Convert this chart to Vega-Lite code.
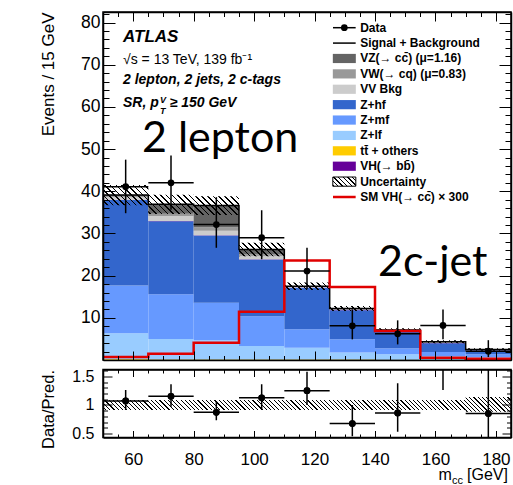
{
"$schema": "https://vega.github.io/schema/vega-lite/v6.json",
"padding": {"left": 38, "top": 10, "right": 3, "bottom": 2},
"spacing": 2.5,
"config": {"font": "Liberation Sans", "view": {"stroke": "black", "strokeWidth": 1.5}, "axis": {"grid": false, "labelColor": "black", "titleColor": "black", "tickColor": "black", "domainColor": "black", "titleFontWeight": "normal", "labelFont": "Liberation Sans", "titleFont": "Liberation Sans", "labelFlush": false, "labelBound": false}},
"datasets": {
"bins": [
{"lo":50,"hi":65,"c":57.5,"edges":[50,65],"tot":39.1,"uhi":41.5,"ulo":36.7,"sig":0.7,"data":41.1,"dlo":34.8,"dhi":47.5,"r":1.07,"rlo":0.91,"rhi":1.26,"rbhi":1.085,"rblo":0.91},
{"lo":65,"hi":80,"c":72.5,"edges":[65,80],"tot":36.9,"uhi":39.2,"ulo":34.6,"sig":1.5,"data":42.0,"dlo":35.6,"dhi":48.5,"r":1.15,"rlo":0.97,"rhi":1.36,"rbhi":1.085,"rblo":0.91},
{"lo":80,"hi":95,"c":87.5,"edges":[80,95],"tot":36.6,"uhi":38.8,"ulo":34.4,"sig":4.1,"data":32.1,"dlo":26.6,"dhi":38.6,"r":0.87,"rlo":0.73,"rhi":1.07,"rbhi":1.085,"rblo":0.91},
{"lo":95,"hi":110,"c":102.5,"edges":[95,110],"tot":26.2,"uhi":27.8,"ulo":24.6,"sig":11.45,"data":29.0,"dlo":23.9,"dhi":35.5,"r":1.125,"rlo":0.92,"rhi":1.36,"rbhi":1.085,"rblo":0.91},
{"lo":110,"hi":125,"c":117.5,"edges":[110,125],"tot":17.5,"uhi":18.4,"ulo":16.6,"sig":23.6,"data":21.1,"dlo":16.8,"dhi":26.6,"r":1.25,"rlo":1.0,"rhi":1.58,"rbhi":1.085,"rblo":0.91},
{"lo":125,"hi":140,"c":132.5,"edges":[125,140],"tot":12.2,"uhi":12.8,"ulo":11.6,"sig":17.3,"data":8.1,"dlo":4.9,"dhi":12.0,"r":0.675,"rlo":0.45,"rhi":1.0,"rbhi":1.085,"rblo":0.91},
{"lo":140,"hi":155,"c":147.5,"edges":[140,155],"tot":7.1,"uhi":7.55,"ulo":6.65,"sig":6.9,"data":6.2,"dlo":3.7,"dhi":9.4,"r":0.86,"rlo":0.53,"rhi":1.38,"rbhi":1.085,"rblo":0.91},
{"lo":155,"hi":170,"c":162.5,"edges":[155,170],"tot":4.35,"uhi":4.7,"ulo":4.0,"sig":0.55,"data":8.2,"dlo":4.9,"dhi":12.0,"r":1.9,"rlo":1.26,"rhi":2.8,"rbhi":1.085,"rblo":0.91},
{"lo":170,"hi":185,"c":177.5,"edges":[170,185],"tot":2.5,"uhi":2.8,"ulo":2.2,"sig":0.3,"data":2.1,"dlo":0.7,"dhi":4.7,"r":0.85,"rlo":0.2,"rhi":2.6,"rbhi":1.14,"rblo":0.88}
],
"stack": [
{"lo":50,"hi":65,"comp":"tt","k":0,"v":0.15},{"lo":50,"hi":65,"comp":"Zlf","k":1,"v":6.2},{"lo":50,"hi":65,"comp":"Zmf","k":2,"v":11.3},{"lo":50,"hi":65,"comp":"Zhf","k":3,"v":20.3},{"lo":50,"hi":65,"comp":"VHbb","k":4,"v":0.05},{"lo":50,"hi":65,"comp":"VV","k":5,"v":0.6},{"lo":50,"hi":65,"comp":"VW","k":6,"v":0.3},{"lo":50,"hi":65,"comp":"VZ","k":7,"v":0.2},
{"lo":65,"hi":80,"comp":"tt","k":0,"v":0.1},{"lo":65,"hi":80,"comp":"Zlf","k":1,"v":4.9},{"lo":65,"hi":80,"comp":"Zmf","k":2,"v":10.6},{"lo":65,"hi":80,"comp":"Zhf","k":3,"v":17.3},{"lo":65,"hi":80,"comp":"VHbb","k":4,"v":0.05},{"lo":65,"hi":80,"comp":"VV","k":5,"v":1.2},{"lo":65,"hi":80,"comp":"VW","k":6,"v":0.5},{"lo":65,"hi":80,"comp":"VZ","k":7,"v":2.25},
{"lo":80,"hi":95,"comp":"tt","k":0,"v":0.1},{"lo":80,"hi":95,"comp":"Zlf","k":1,"v":4.6},{"lo":80,"hi":95,"comp":"Zmf","k":2,"v":8.9},{"lo":80,"hi":95,"comp":"Zhf","k":3,"v":15.9},{"lo":80,"hi":95,"comp":"VHbb","k":4,"v":0.05},{"lo":80,"hi":95,"comp":"VV","k":5,"v":1.1},{"lo":80,"hi":95,"comp":"VW","k":6,"v":0.8},{"lo":80,"hi":95,"comp":"VZ","k":7,"v":5.15},
{"lo":95,"hi":110,"comp":"tt","k":0,"v":0.1},{"lo":95,"hi":110,"comp":"Zlf","k":1,"v":3.2},{"lo":95,"hi":110,"comp":"Zmf","k":2,"v":7.1},{"lo":95,"hi":110,"comp":"Zhf","k":3,"v":13.4},{"lo":95,"hi":110,"comp":"VHbb","k":4,"v":0.1},{"lo":95,"hi":110,"comp":"VV","k":5,"v":0.7},{"lo":95,"hi":110,"comp":"VW","k":6,"v":0.5},{"lo":95,"hi":110,"comp":"VZ","k":7,"v":1.1},
{"lo":110,"hi":125,"comp":"tt","k":0,"v":0.1},{"lo":110,"hi":125,"comp":"Zlf","k":1,"v":2.8},{"lo":110,"hi":125,"comp":"Zmf","k":2,"v":4.4},{"lo":110,"hi":125,"comp":"Zhf","k":3,"v":9.8},{"lo":110,"hi":125,"comp":"VHbb","k":4,"v":0.1},{"lo":110,"hi":125,"comp":"VV","k":5,"v":0.1},{"lo":110,"hi":125,"comp":"VW","k":6,"v":0.1},{"lo":110,"hi":125,"comp":"VZ","k":7,"v":0.1},
{"lo":125,"hi":140,"comp":"tt","k":0,"v":0.1},{"lo":125,"hi":140,"comp":"Zlf","k":1,"v":1.7},{"lo":125,"hi":140,"comp":"Zmf","k":2,"v":3.1},{"lo":125,"hi":140,"comp":"Zhf","k":3,"v":6.9},{"lo":125,"hi":140,"comp":"VHbb","k":4,"v":0.1},{"lo":125,"hi":140,"comp":"VV","k":5,"v":0.1},{"lo":125,"hi":140,"comp":"VW","k":6,"v":0.1},{"lo":125,"hi":140,"comp":"VZ","k":7,"v":0.1},
{"lo":140,"hi":155,"comp":"tt","k":0,"v":0.05},{"lo":140,"hi":155,"comp":"Zlf","k":1,"v":1.3},{"lo":140,"hi":155,"comp":"Zmf","k":2,"v":1.45},{"lo":140,"hi":155,"comp":"Zhf","k":3,"v":3.9},{"lo":140,"hi":155,"comp":"VHbb","k":4,"v":0.1},{"lo":140,"hi":155,"comp":"VV","k":5,"v":0.1},{"lo":140,"hi":155,"comp":"VW","k":6,"v":0.1},{"lo":140,"hi":155,"comp":"VZ","k":7,"v":0.1},
{"lo":155,"hi":170,"comp":"tt","k":0,"v":0.05},{"lo":155,"hi":170,"comp":"Zlf","k":1,"v":0.9},{"lo":155,"hi":170,"comp":"Zmf","k":2,"v":0.95},{"lo":155,"hi":170,"comp":"Zhf","k":3,"v":2.1},{"lo":155,"hi":170,"comp":"VHbb","k":4,"v":0.05},{"lo":155,"hi":170,"comp":"VV","k":5,"v":0.1},{"lo":155,"hi":170,"comp":"VW","k":6,"v":0.1},{"lo":155,"hi":170,"comp":"VZ","k":7,"v":0.1},
{"lo":170,"hi":185,"comp":"tt","k":0,"v":0.05},{"lo":170,"hi":185,"comp":"Zlf","k":1,"v":0.6},{"lo":170,"hi":185,"comp":"Zmf","k":2,"v":0.7},{"lo":170,"hi":185,"comp":"Zhf","k":3,"v":0.9},{"lo":170,"hi":185,"comp":"VHbb","k":4,"v":0.05},{"lo":170,"hi":185,"comp":"VV","k":5,"v":0.1},{"lo":170,"hi":185,"comp":"VW","k":6,"v":0.05},{"lo":170,"hi":185,"comp":"VZ","k":7,"v":0.05}
],
"legend": [
{"rank":0,"label":"Data","kind":"data"},
{"rank":1,"label":"Signal + Background","kind":"line"},
{"rank":2,"label":"VZ(\u2192 cc\u0304) (\u03bc=1.16)","kind":"fill","comp":"VZ"},
{"rank":3,"label":"VW(\u2192 cq) (\u03bc=0.83)","kind":"fill","comp":"VW"},
{"rank":4,"label":"VV Bkg","kind":"fill","comp":"VV"},
{"rank":5,"label":"Z+hf","kind":"fill","comp":"Zhf"},
{"rank":6,"label":"Z+mf","kind":"fill","comp":"Zmf"},
{"rank":7,"label":"Z+lf","kind":"fill","comp":"Zlf"},
{"rank":8,"label":"tt\u0304 + others","kind":"fill","comp":"tt"},
{"rank":9,"label":"VH(\u2192 bb\u0304)","kind":"fill","comp":"VHbb"},
{"rank":10,"label":"Uncertainty","kind":"hatch"},
{"rank":11,"label":"SM VH(\u2192 cc\u0304) \u00d7 300","kind":"red"}
]
},
"vconcat": [
{
"width": 408, "height": 348,
"layer": [
{
"layer": [
{"data": {"name": "stack"},
 "transform": [{"stack": "v", "groupby": ["lo"], "sort": [{"field": "k", "order": "ascending"}], "as": ["y0", "y1"]}],
 "mark": {"type": "rect", "opacity": 1},
 "encoding": {
  "x": {"field": "lo", "type": "quantitative", "scale": {"domain": [50, 185], "nice": false, "zero": false}, "axis": {"orient":"bottom","values":[60,80,100,120,140,160,180],"labels":false,"ticks":true,"tickSize":-9,"tickWidth":1,"tickColor":"black","domain":true,"domainColor":"black","domainWidth":1.5,"grid":false,"title":null,"zindex":2}},
  "x2": {"field": "hi"},
  "y": {"field": "y1", "type": "quantitative", "scale": {"domain": [0, 82.5], "nice": false, "zero": false}, "axis": {"orient":"left","values":[10,20,30,40,50,60,70,80],"format":"d","ticks":false,"domain":false,"grid":false,"labelFontSize":17.5,"labelPadding":3,"labelColor":"black","title":"Events / 15 GeV","titleFontSize":17,"titleFontWeight":"normal","titleColor":"black","titleAnchor":"end","titlePadding":23,"zindex":2}},
  "y2": {"field": "y0"},
  "color": {"field": "comp", "type": "nominal", "scale": {"domain": ["VZ","VW","VV","Zhf","Zmf","Zlf","tt","VHbb"], "range": ["#646464","#999999","#cccccc","#3366cc","#6699ff","#99ccff","#ffcc00","#660099"]}, "legend": null}
 }
},
{"data": {"name": "bins"},
 "transform": [{"flatten": ["edges"]}],
 "mark": {"type": "area", "interpolate": "linear", "opacity": 1, "fill": {"gradient":"linear","x1":0,"y1":1,"x2":1.207,"y2":0.5095,"stops":[
{"offset":0,"color":"#000"},{"offset":0.0028,"color":"#000"},{"offset":0.0028,"color":"#0000"},{"offset":0.01,"color":"#0000"},
{"offset":0.01,"color":"#000"},{"offset":0.0128,"color":"#000"},{"offset":0.0128,"color":"#0000"},{"offset":0.02,"color":"#0000"},
{"offset":0.02,"color":"#000"},{"offset":0.0228,"color":"#000"},{"offset":0.0228,"color":"#0000"},{"offset":0.03,"color":"#0000"},
{"offset":0.03,"color":"#000"},{"offset":0.0328,"color":"#000"},{"offset":0.0328,"color":"#0000"},{"offset":0.04,"color":"#0000"},
{"offset":0.04,"color":"#000"},{"offset":0.0428,"color":"#000"},{"offset":0.0428,"color":"#0000"},{"offset":0.05,"color":"#0000"},
{"offset":0.05,"color":"#000"},{"offset":0.0528,"color":"#000"},{"offset":0.0528,"color":"#0000"},{"offset":0.06,"color":"#0000"},
{"offset":0.06,"color":"#000"},{"offset":0.0628,"color":"#000"},{"offset":0.0628,"color":"#0000"},{"offset":0.07,"color":"#0000"},
{"offset":0.07,"color":"#000"},{"offset":0.0728,"color":"#000"},{"offset":0.0728,"color":"#0000"},{"offset":0.08,"color":"#0000"},
{"offset":0.08,"color":"#000"},{"offset":0.0828,"color":"#000"},{"offset":0.0828,"color":"#0000"},{"offset":0.09,"color":"#0000"},
{"offset":0.09,"color":"#000"},{"offset":0.0928,"color":"#000"},{"offset":0.0928,"color":"#0000"},{"offset":0.1,"color":"#0000"},
{"offset":0.1,"color":"#000"},{"offset":0.1028,"color":"#000"},{"offset":0.1028,"color":"#0000"},{"offset":0.11,"color":"#0000"},
{"offset":0.11,"color":"#000"},{"offset":0.1128,"color":"#000"},{"offset":0.1128,"color":"#0000"},{"offset":0.12,"color":"#0000"},
{"offset":0.12,"color":"#000"},{"offset":0.1228,"color":"#000"},{"offset":0.1228,"color":"#0000"},{"offset":0.13,"color":"#0000"},
{"offset":0.13,"color":"#000"},{"offset":0.1328,"color":"#000"},{"offset":0.1328,"color":"#0000"},{"offset":0.14,"color":"#0000"},
{"offset":0.14,"color":"#000"},{"offset":0.1428,"color":"#000"},{"offset":0.1428,"color":"#0000"},{"offset":0.15,"color":"#0000"},
{"offset":0.15,"color":"#000"},{"offset":0.1528,"color":"#000"},{"offset":0.1528,"color":"#0000"},{"offset":0.16,"color":"#0000"},
{"offset":0.16,"color":"#000"},{"offset":0.1628,"color":"#000"},{"offset":0.1628,"color":"#0000"},{"offset":0.17,"color":"#0000"},
{"offset":0.17,"color":"#000"},{"offset":0.1728,"color":"#000"},{"offset":0.1728,"color":"#0000"},{"offset":0.18,"color":"#0000"},
{"offset":0.18,"color":"#000"},{"offset":0.1828,"color":"#000"},{"offset":0.1828,"color":"#0000"},{"offset":0.19,"color":"#0000"},
{"offset":0.19,"color":"#000"},{"offset":0.1928,"color":"#000"},{"offset":0.1928,"color":"#0000"},{"offset":0.2,"color":"#0000"},
{"offset":0.2,"color":"#000"},{"offset":0.2028,"color":"#000"},{"offset":0.2028,"color":"#0000"},{"offset":0.21,"color":"#0000"},
{"offset":0.21,"color":"#000"},{"offset":0.2128,"color":"#000"},{"offset":0.2128,"color":"#0000"},{"offset":0.22,"color":"#0000"},
{"offset":0.22,"color":"#000"},{"offset":0.2228,"color":"#000"},{"offset":0.2228,"color":"#0000"},{"offset":0.23,"color":"#0000"},
{"offset":0.23,"color":"#000"},{"offset":0.2328,"color":"#000"},{"offset":0.2328,"color":"#0000"},{"offset":0.24,"color":"#0000"},
{"offset":0.24,"color":"#000"},{"offset":0.2428,"color":"#000"},{"offset":0.2428,"color":"#0000"},{"offset":0.25,"color":"#0000"},
{"offset":0.25,"color":"#000"},{"offset":0.2528,"color":"#000"},{"offset":0.2528,"color":"#0000"},{"offset":0.26,"color":"#0000"},
{"offset":0.26,"color":"#000"},{"offset":0.2628,"color":"#000"},{"offset":0.2628,"color":"#0000"},{"offset":0.27,"color":"#0000"},
{"offset":0.27,"color":"#000"},{"offset":0.2728,"color":"#000"},{"offset":0.2728,"color":"#0000"},{"offset":0.28,"color":"#0000"},
{"offset":0.28,"color":"#000"},{"offset":0.2828,"color":"#000"},{"offset":0.2828,"color":"#0000"},{"offset":0.29,"color":"#0000"},
{"offset":0.29,"color":"#000"},{"offset":0.2928,"color":"#000"},{"offset":0.2928,"color":"#0000"},{"offset":0.3,"color":"#0000"},
{"offset":0.3,"color":"#000"},{"offset":0.3028,"color":"#000"},{"offset":0.3028,"color":"#0000"},{"offset":0.31,"color":"#0000"},
{"offset":0.31,"color":"#000"},{"offset":0.3128,"color":"#000"},{"offset":0.3128,"color":"#0000"},{"offset":0.32,"color":"#0000"},
{"offset":0.32,"color":"#000"},{"offset":0.3228,"color":"#000"},{"offset":0.3228,"color":"#0000"},{"offset":0.33,"color":"#0000"},
{"offset":0.33,"color":"#000"},{"offset":0.3328,"color":"#000"},{"offset":0.3328,"color":"#0000"},{"offset":0.34,"color":"#0000"},
{"offset":0.34,"color":"#000"},{"offset":0.3428,"color":"#000"},{"offset":0.3428,"color":"#0000"},{"offset":0.35,"color":"#0000"},
{"offset":0.35,"color":"#000"},{"offset":0.3528,"color":"#000"},{"offset":0.3528,"color":"#0000"},{"offset":0.36,"color":"#0000"},
{"offset":0.36,"color":"#000"},{"offset":0.3628,"color":"#000"},{"offset":0.3628,"color":"#0000"},{"offset":0.37,"color":"#0000"},
{"offset":0.37,"color":"#000"},{"offset":0.3728,"color":"#000"},{"offset":0.3728,"color":"#0000"},{"offset":0.38,"color":"#0000"},
{"offset":0.38,"color":"#000"},{"offset":0.3828,"color":"#000"},{"offset":0.3828,"color":"#0000"},{"offset":0.39,"color":"#0000"},
{"offset":0.39,"color":"#000"},{"offset":0.3928,"color":"#000"},{"offset":0.3928,"color":"#0000"},{"offset":0.4,"color":"#0000"},
{"offset":0.4,"color":"#000"},{"offset":0.4028,"color":"#000"},{"offset":0.4028,"color":"#0000"},{"offset":0.41,"color":"#0000"},
{"offset":0.41,"color":"#000"},{"offset":0.4128,"color":"#000"},{"offset":0.4128,"color":"#0000"},{"offset":0.42,"color":"#0000"},
{"offset":0.42,"color":"#000"},{"offset":0.4228,"color":"#000"},{"offset":0.4228,"color":"#0000"},{"offset":0.43,"color":"#0000"},
{"offset":0.43,"color":"#000"},{"offset":0.4328,"color":"#000"},{"offset":0.4328,"color":"#0000"},{"offset":0.44,"color":"#0000"},
{"offset":0.44,"color":"#000"},{"offset":0.4428,"color":"#000"},{"offset":0.4428,"color":"#0000"},{"offset":0.45,"color":"#0000"},
{"offset":0.45,"color":"#000"},{"offset":0.4528,"color":"#000"},{"offset":0.4528,"color":"#0000"},{"offset":0.46,"color":"#0000"},
{"offset":0.46,"color":"#000"},{"offset":0.4628,"color":"#000"},{"offset":0.4628,"color":"#0000"},{"offset":0.47,"color":"#0000"},
{"offset":0.47,"color":"#000"},{"offset":0.4728,"color":"#000"},{"offset":0.4728,"color":"#0000"},{"offset":0.48,"color":"#0000"},
{"offset":0.48,"color":"#000"},{"offset":0.4828,"color":"#000"},{"offset":0.4828,"color":"#0000"},{"offset":0.49,"color":"#0000"},
{"offset":0.49,"color":"#000"},{"offset":0.4928,"color":"#000"},{"offset":0.4928,"color":"#0000"},{"offset":0.5,"color":"#0000"},
{"offset":0.5,"color":"#000"},{"offset":0.5028,"color":"#000"},{"offset":0.5028,"color":"#0000"},{"offset":0.51,"color":"#0000"},
{"offset":0.51,"color":"#000"},{"offset":0.5128,"color":"#000"},{"offset":0.5128,"color":"#0000"},{"offset":0.52,"color":"#0000"},
{"offset":0.52,"color":"#000"},{"offset":0.5228,"color":"#000"},{"offset":0.5228,"color":"#0000"},{"offset":0.53,"color":"#0000"},
{"offset":0.53,"color":"#000"},{"offset":0.5328,"color":"#000"},{"offset":0.5328,"color":"#0000"},{"offset":0.54,"color":"#0000"},
{"offset":0.54,"color":"#000"},{"offset":0.5428,"color":"#000"},{"offset":0.5428,"color":"#0000"},{"offset":0.55,"color":"#0000"},
{"offset":0.55,"color":"#000"},{"offset":0.5528,"color":"#000"},{"offset":0.5528,"color":"#0000"},{"offset":0.56,"color":"#0000"},
{"offset":0.56,"color":"#000"},{"offset":0.5628,"color":"#000"},{"offset":0.5628,"color":"#0000"},{"offset":0.57,"color":"#0000"},
{"offset":0.57,"color":"#000"},{"offset":0.5728,"color":"#000"},{"offset":0.5728,"color":"#0000"},{"offset":0.58,"color":"#0000"},
{"offset":0.58,"color":"#000"},{"offset":0.5828,"color":"#000"},{"offset":0.5828,"color":"#0000"},{"offset":0.59,"color":"#0000"},
{"offset":0.59,"color":"#000"},{"offset":0.5928,"color":"#000"},{"offset":0.5928,"color":"#0000"},{"offset":0.6,"color":"#0000"},
{"offset":0.6,"color":"#000"},{"offset":0.6028,"color":"#000"},{"offset":0.6028,"color":"#0000"},{"offset":0.61,"color":"#0000"},
{"offset":0.61,"color":"#000"},{"offset":0.6128,"color":"#000"},{"offset":0.6128,"color":"#0000"},{"offset":0.62,"color":"#0000"},
{"offset":0.62,"color":"#000"},{"offset":0.6228,"color":"#000"},{"offset":0.6228,"color":"#0000"},{"offset":0.63,"color":"#0000"},
{"offset":0.63,"color":"#000"},{"offset":0.6328,"color":"#000"},{"offset":0.6328,"color":"#0000"},{"offset":0.64,"color":"#0000"},
{"offset":0.64,"color":"#000"},{"offset":0.6428,"color":"#000"},{"offset":0.6428,"color":"#0000"},{"offset":0.65,"color":"#0000"},
{"offset":0.65,"color":"#000"},{"offset":0.6528,"color":"#000"},{"offset":0.6528,"color":"#0000"},{"offset":0.66,"color":"#0000"},
{"offset":0.66,"color":"#000"},{"offset":0.6628,"color":"#000"},{"offset":0.6628,"color":"#0000"},{"offset":0.67,"color":"#0000"},
{"offset":0.67,"color":"#000"},{"offset":0.6728,"color":"#000"},{"offset":0.6728,"color":"#0000"},{"offset":0.68,"color":"#0000"},
{"offset":0.68,"color":"#000"},{"offset":0.6828,"color":"#000"},{"offset":0.6828,"color":"#0000"},{"offset":0.69,"color":"#0000"},
{"offset":0.69,"color":"#000"},{"offset":0.6928,"color":"#000"},{"offset":0.6928,"color":"#0000"},{"offset":0.7,"color":"#0000"},
{"offset":0.7,"color":"#000"},{"offset":0.7028,"color":"#000"},{"offset":0.7028,"color":"#0000"},{"offset":0.71,"color":"#0000"},
{"offset":0.71,"color":"#000"},{"offset":0.7128,"color":"#000"},{"offset":0.7128,"color":"#0000"},{"offset":0.72,"color":"#0000"},
{"offset":0.72,"color":"#000"},{"offset":0.7228,"color":"#000"},{"offset":0.7228,"color":"#0000"},{"offset":0.73,"color":"#0000"},
{"offset":0.73,"color":"#000"},{"offset":0.7328,"color":"#000"},{"offset":0.7328,"color":"#0000"},{"offset":0.74,"color":"#0000"},
{"offset":0.74,"color":"#000"},{"offset":0.7428,"color":"#000"},{"offset":0.7428,"color":"#0000"},{"offset":0.75,"color":"#0000"},
{"offset":0.75,"color":"#000"},{"offset":0.7528,"color":"#000"},{"offset":0.7528,"color":"#0000"},{"offset":0.76,"color":"#0000"},
{"offset":0.76,"color":"#000"},{"offset":0.7628,"color":"#000"},{"offset":0.7628,"color":"#0000"},{"offset":0.77,"color":"#0000"},
{"offset":0.77,"color":"#000"},{"offset":0.7728,"color":"#000"},{"offset":0.7728,"color":"#0000"},{"offset":0.78,"color":"#0000"},
{"offset":0.78,"color":"#000"},{"offset":0.7828,"color":"#000"},{"offset":0.7828,"color":"#0000"},{"offset":0.79,"color":"#0000"},
{"offset":0.79,"color":"#000"},{"offset":0.7928,"color":"#000"},{"offset":0.7928,"color":"#0000"},{"offset":0.8,"color":"#0000"},
{"offset":0.8,"color":"#000"},{"offset":0.8028,"color":"#000"},{"offset":0.8028,"color":"#0000"},{"offset":0.81,"color":"#0000"},
{"offset":0.81,"color":"#000"},{"offset":0.8128,"color":"#000"},{"offset":0.8128,"color":"#0000"},{"offset":0.82,"color":"#0000"},
{"offset":0.82,"color":"#000"},{"offset":0.8228,"color":"#000"},{"offset":0.8228,"color":"#0000"},{"offset":0.83,"color":"#0000"},
{"offset":0.83,"color":"#000"},{"offset":0.8328,"color":"#000"},{"offset":0.8328,"color":"#0000"},{"offset":0.84,"color":"#0000"},
{"offset":0.84,"color":"#000"},{"offset":0.8428,"color":"#000"},{"offset":0.8428,"color":"#0000"},{"offset":0.85,"color":"#0000"},
{"offset":0.85,"color":"#000"},{"offset":0.8528,"color":"#000"},{"offset":0.8528,"color":"#0000"},{"offset":0.86,"color":"#0000"},
{"offset":0.86,"color":"#000"},{"offset":0.8628,"color":"#000"},{"offset":0.8628,"color":"#0000"},{"offset":0.87,"color":"#0000"},
{"offset":0.87,"color":"#000"},{"offset":0.8728,"color":"#000"},{"offset":0.8728,"color":"#0000"},{"offset":0.88,"color":"#0000"},
{"offset":0.88,"color":"#000"},{"offset":0.8828,"color":"#000"},{"offset":0.8828,"color":"#0000"},{"offset":0.89,"color":"#0000"},
{"offset":0.89,"color":"#000"},{"offset":0.8928,"color":"#000"},{"offset":0.8928,"color":"#0000"},{"offset":0.9,"color":"#0000"},
{"offset":0.9,"color":"#000"},{"offset":0.9028,"color":"#000"},{"offset":0.9028,"color":"#0000"},{"offset":0.91,"color":"#0000"},
{"offset":0.91,"color":"#000"},{"offset":0.9128,"color":"#000"},{"offset":0.9128,"color":"#0000"},{"offset":0.92,"color":"#0000"},
{"offset":0.92,"color":"#000"},{"offset":0.9228,"color":"#000"},{"offset":0.9228,"color":"#0000"},{"offset":0.93,"color":"#0000"},
{"offset":0.93,"color":"#000"},{"offset":0.9328,"color":"#000"},{"offset":0.9328,"color":"#0000"},{"offset":0.94,"color":"#0000"},
{"offset":0.94,"color":"#000"},{"offset":0.9428,"color":"#000"},{"offset":0.9428,"color":"#0000"},{"offset":0.95,"color":"#0000"},
{"offset":0.95,"color":"#000"},{"offset":0.9528,"color":"#000"},{"offset":0.9528,"color":"#0000"},{"offset":0.96,"color":"#0000"},
{"offset":0.96,"color":"#000"},{"offset":0.9628,"color":"#000"},{"offset":0.9628,"color":"#0000"},{"offset":0.97,"color":"#0000"},
{"offset":0.97,"color":"#000"},{"offset":0.9728,"color":"#000"},{"offset":0.9728,"color":"#0000"},{"offset":0.98,"color":"#0000"},
{"offset":0.98,"color":"#000"},{"offset":0.9828,"color":"#000"},{"offset":0.9828,"color":"#0000"},{"offset":0.99,"color":"#0000"},
{"offset":0.99,"color":"#000"},{"offset":0.9928,"color":"#000"},{"offset":0.9928,"color":"#0000"},{"offset":1,"color":"#0000"}
]}},
 "encoding": {
  "x": {"field": "edges", "type": "quantitative", "scale": {"domain": [50, 185], "nice": false, "zero": false}, "axis": {"orient":"bottom","values":[55,65,70,75,85,90,95,105,110,115,125,130,135,145,150,155,165,170,175],"labels":false,"tickSize":-4.5,"tickWidth":1,"tickColor":"black","domain":false,"grid":false,"title":null,"zindex":2}},
  "y": {"field": "uhi", "type": "quantitative", "scale": {"domain": [0, 82.5], "nice": false, "zero": false}, "axis": {"orient":"left","values":[0,10,20,30,40,50,60,70,80],"labels":false,"tickSize":-12,"tickWidth":1,"tickColor":"black","domain":true,"domainColor":"black","domainWidth":1.5,"grid":false,"title":null,"zindex":2}},
  "y2": {"field": "ulo"}
 }
},
{"data": {"name": "bins"},
 "transform": [{"flatten": ["edges"]}],
 "mark": {"type": "line", "color": "black", "strokeWidth": 1.5},
 "encoding": {
  "x": {"field": "edges", "type": "quantitative", "scale": {"domain": [50, 185], "nice": false, "zero": false}, "axis": {"orient":"top","values":[60,80,100,120,140,160,180],"labels":false,"tickSize":-9,"tickWidth":1,"tickColor":"black","domain":true,"domainColor":"black","domainWidth":1.5,"grid":false,"title":null,"zindex":2}},
  "y": {"field": "tot", "type": "quantitative", "scale": {"domain": [0, 82.5], "nice": false, "zero": false}, "axis": {"orient":"left","values":[2,4,6,8,12,14,16,18,22,24,26,28,32,34,36,38,42,44,46,48,52,54,56,58,62,64,66,68,72,74,76,78,82],"labels":false,"tickSize":-6,"tickWidth":1,"tickColor":"black","domain":false,"grid":false,"title":null,"zindex":2}}
 }
},
{"data": {"name": "bins"},
 "transform": [{"flatten": ["edges"]}],
 "mark": {"type": "line", "color": "#e00000", "strokeWidth": 2.5},
 "encoding": {
  "x": {"field": "edges", "type": "quantitative", "scale": {"domain": [50, 185], "nice": false, "zero": false}, "axis": {"orient":"top","values":[55,65,70,75,85,90,95,105,110,115,125,130,135,145,150,155,165,170,175],"labels":false,"tickSize":-4.5,"tickWidth":1,"tickColor":"black","domain":false,"grid":false,"title":null,"zindex":2}},
  "y": {"field": "sig", "type": "quantitative", "scale": {"domain": [0, 82.5], "nice": false, "zero": false}, "axis": {"orient":"right","values":[0,10,20,30,40,50,60,70,80],"labels":false,"tickSize":-12,"tickWidth":1,"tickColor":"black","domain":true,"domainColor":"black","domainWidth":1.5,"grid":false,"title":null,"zindex":2}}
 }
},
{"data": {"name": "bins"},
 "mark": {"type": "rule", "color": "black", "strokeWidth": 1.5},
 "encoding": {
  "x": {"field": "c", "type": "quantitative", "scale": {"domain": [50, 185], "nice": false, "zero": false}, "axis": null},
  "y": {"field": "dlo", "type": "quantitative", "scale": {"domain": [0, 82.5], "nice": false, "zero": false}, "axis": {"orient":"right","values":[2,4,6,8,12,14,16,18,22,24,26,28,32,34,36,38,42,44,46,48,52,54,56,58,62,64,66,68,72,74,76,78,82],"labels":false,"tickSize":-6,"tickWidth":1,"tickColor":"black","domain":false,"grid":false,"title":null,"zindex":2}},
  "y2": {"field": "dhi"}
 }
},
{"data": {"name": "bins"},
 "mark": {"type": "rule", "color": "black", "strokeWidth": 1.5},
 "encoding": {
  "x": {"field": "lo", "type": "quantitative", "scale": {"domain": [50, 185], "nice": false, "zero": false}, "axis": null},
  "x2": {"field": "hi"},
  "y": {"field": "data", "type": "quantitative", "scale": {"domain": [0, 82.5], "nice": false, "zero": false}, "axis": null}
 }
},
{"data": {"name": "bins"},
 "mark": {"type": "point", "shape": "circle", "filled": true, "color": "black", "size": 45, "opacity": 1},
 "encoding": {
  "x": {"field": "c", "type": "quantitative", "scale": {"domain": [50, 185], "nice": false, "zero": false}, "axis": null},
  "y": {"field": "data", "type": "quantitative", "scale": {"domain": [0, 82.5], "nice": false, "zero": false}, "axis": null}
 }
},
{"data": {"values": [{}]}, "mark": {"type": "text", "text": "ATLAS", "align": "left", "baseline": "alphabetic", "font": "Liberation Sans", "fontSize": 17, "fontWeight": "bold", "fontStyle": "italic", "color": "black"},
 "encoding": {"x": {"datum": 56.62, "axis": null}, "y": {"datum": 75.39, "axis": null}}},
{"data": {"values": [{}]}, "mark": {"type": "text", "text": "\u221as = 13 TeV, 139 fb\u207b\u00b9", "align": "left", "baseline": "alphabetic", "font": "Liberation Sans", "fontSize": 14, "color": "black"},
 "encoding": {"x": {"datum": 56.62, "axis": null}, "y": {"datum": 70.1, "axis": null}}},
{"data": {"values": [{}]}, "mark": {"type": "text", "text": "2 lepton, 2 jets, 2 c-tags", "align": "left", "baseline": "alphabetic", "font": "Liberation Sans", "fontSize": 14, "fontWeight": "bold", "fontStyle": "italic", "color": "black"},
 "encoding": {"x": {"datum": 56.62, "axis": null}, "y": {"datum": 65.5, "axis": null}}},
{"data": {"values": [{}]}, "mark": {"type": "text", "text": "SR, p", "align": "left", "baseline": "alphabetic", "font": "Liberation Sans", "fontSize": 14, "fontWeight": "bold", "fontStyle": "italic", "color": "black"},
 "encoding": {"x": {"datum": 56.62, "axis": null}, "y": {"datum": 59.98, "axis": null}}},
{"data": {"values": [{}]}, "mark": {"type": "text", "text": "V", "align": "left", "baseline": "alphabetic", "font": "Liberation Sans", "fontSize": 9, "fontWeight": "bold", "fontStyle": "italic", "color": "black"},
 "encoding": {"x": {"datum": 68.86, "axis": null}, "y": {"datum": 60.9, "axis": null}}},
{"data": {"values": [{}]}, "mark": {"type": "text", "text": "T", "align": "left", "baseline": "alphabetic", "font": "Liberation Sans", "fontSize": 9, "fontWeight": "bold", "fontStyle": "italic", "color": "black"},
 "encoding": {"x": {"datum": 68.86, "axis": null}, "y": {"datum": 58.3, "axis": null}}},
{"data": {"values": [{}]}, "mark": {"type": "text", "text": "\u2265 150 GeV", "align": "left", "baseline": "alphabetic", "font": "Liberation Sans", "fontSize": 14, "fontWeight": "bold", "fontStyle": "italic", "color": "black"},
 "encoding": {"x": {"datum": 72.04, "axis": null}, "y": {"datum": 59.98, "axis": null}}},
{"data": {"values": [{}]}, "mark": {"type": "text", "text": "2 lepton", "align": "left", "baseline": "alphabetic", "font": "Lato", "fontSize": 43, "color": "black"},
 "encoding": {"x": {"datum": 62.9, "axis": null}, "y": {"datum": 49.3, "axis": null}}},
{"data": {"values": [{}]}, "mark": {"type": "text", "text": "2c-jet", "align": "left", "baseline": "alphabetic", "font": "Lato", "fontSize": 43, "color": "black"},
 "encoding": {"x": {"datum": 141.0, "axis": null}, "y": {"datum": 19.9, "axis": null}}}
],
"resolve": {"axis": {"x": "independent", "y": "independent"}}
},
{
"data": {"name": "legend"},
"layer": [
{"transform": [{"filter": "datum.kind == 'fill'"}],
 "mark": {"type": "point", "shape": "M-1,-0.4H1V0.4H-1Z", "size": 529, "filled": true, "opacity": 1, "strokeWidth": 0},
 "encoding": {
  "x": {"datum": 129.85, "scale": {"domain": [50, 185], "nice": false, "zero": false}, "axis": null},
  "y": {"field": "rank", "type": "quantitative", "scale": {"domain": [-1.02, 21.59], "reverse": true, "nice": false, "zero": false}, "axis": null},
  "color": {"field": "comp", "type": "nominal", "scale": {"domain": ["VZ","VW","VV","Zhf","Zmf","Zlf","tt","VHbb"], "range": ["#646464","#999999","#cccccc","#3366cc","#6699ff","#99ccff","#ffcc00","#660099"]}, "legend": null}
 }},
{"transform": [{"filter": "datum.kind == 'hatch'"}],
 "mark": {"type": "point", "shape": "M-1,-0.4H1V0.4H-1Z", "size": 529, "filled": true, "opacity": 1, "stroke": "black", "strokeWidth": 1, "fill": {"gradient":"linear","x1":0,"y1":1,"x2":1.2069,"y2":0.5172,"stops":[
{"offset":0,"color":"#000"},{"offset":0.045,"color":"#000"},{"offset":0.045,"color":"#0000"},{"offset":0.1429,"color":"#0000"},
{"offset":0.1429,"color":"#000"},{"offset":0.1879,"color":"#000"},{"offset":0.1879,"color":"#0000"},{"offset":0.2857,"color":"#0000"},
{"offset":0.2857,"color":"#000"},{"offset":0.3307,"color":"#000"},{"offset":0.3307,"color":"#0000"},{"offset":0.4286,"color":"#0000"},
{"offset":0.4286,"color":"#000"},{"offset":0.4736,"color":"#000"},{"offset":0.4736,"color":"#0000"},{"offset":0.5714,"color":"#0000"},
{"offset":0.5714,"color":"#000"},{"offset":0.6164,"color":"#000"},{"offset":0.6164,"color":"#0000"},{"offset":0.7143,"color":"#0000"},
{"offset":0.7143,"color":"#000"},{"offset":0.7593,"color":"#000"},{"offset":0.7593,"color":"#0000"},{"offset":0.8571,"color":"#0000"},
{"offset":0.8571,"color":"#000"},{"offset":0.9021,"color":"#000"},{"offset":0.9021,"color":"#0000"},{"offset":1,"color":"#0000"}
]}},
 "encoding": {
  "x": {"datum": 129.85, "scale": {"domain": [50, 185], "nice": false, "zero": false}, "axis": null},
  "y": {"field": "rank", "type": "quantitative", "scale": {"domain": [-1.02, 21.59], "reverse": true, "nice": false, "zero": false}, "axis": null}
 }},
{"transform": [{"filter": "datum.kind == 'data' || datum.kind == 'line'"}],
 "mark": {"type": "rule", "color": "black", "strokeWidth": 1.5},
 "encoding": {
  "x": {"datum": 126.1, "scale": {"domain": [50, 185], "nice": false, "zero": false}, "axis": null},
  "x2": {"datum": 133.6},
  "y": {"field": "rank", "type": "quantitative", "scale": {"domain": [-1.02, 21.59], "reverse": true, "nice": false, "zero": false}, "axis": null}
 }},
{"transform": [{"filter": "datum.kind == 'red'"}],
 "mark": {"type": "rule", "color": "#e00000", "strokeWidth": 2.5},
 "encoding": {
  "x": {"datum": 126.1, "scale": {"domain": [50, 185], "nice": false, "zero": false}, "axis": null},
  "x2": {"datum": 133.6},
  "y": {"field": "rank", "type": "quantitative", "scale": {"domain": [-1.02, 21.59], "reverse": true, "nice": false, "zero": false}, "axis": null}
 }},
{"transform": [{"filter": "datum.kind == 'data'"}],
 "mark": {"type": "point", "shape": "circle", "filled": true, "color": "black", "size": 45, "opacity": 1},
 "encoding": {
  "x": {"datum": 129.85, "scale": {"domain": [50, 185], "nice": false, "zero": false}, "axis": null},
  "y": {"field": "rank", "type": "quantitative", "scale": {"domain": [-1.02, 21.59], "reverse": true, "nice": false, "zero": false}, "axis": null}
 }},
{"mark": {"type": "text", "align": "left", "baseline": "middle", "font": "Liberation Sans", "fontSize": 12, "fontWeight": "bold", "color": "black"},
 "encoding": {
  "x": {"datum": 135.1, "scale": {"domain": [50, 185], "nice": false, "zero": false}, "axis": null},
  "y": {"field": "rank", "type": "quantitative", "scale": {"domain": [-1.02, 21.59], "reverse": true, "nice": false, "zero": false}, "axis": null},
  "text": {"field": "label", "type": "nominal"}
 }}
]
}
],
"resolve": {"scale": {"y": "independent"}, "axis": {"x": "independent", "y": "independent"}}
},
{
"width": 408, "height": 68,
"data": {"name": "bins"},
"layer": [
{"transform": [{"flatten": ["edges"]}],
 "mark": {"type": "area", "interpolate": "linear", "opacity": 1, "fill": {"gradient":"linear","x1":0,"y1":1,"x2":1.035,"y2":0.9623,"stops":[
{"offset":0,"color":"#000"},{"offset":0.0028,"color":"#000"},{"offset":0.0028,"color":"#0000"},{"offset":0.01,"color":"#0000"},
{"offset":0.01,"color":"#000"},{"offset":0.0128,"color":"#000"},{"offset":0.0128,"color":"#0000"},{"offset":0.02,"color":"#0000"},
{"offset":0.02,"color":"#000"},{"offset":0.0228,"color":"#000"},{"offset":0.0228,"color":"#0000"},{"offset":0.03,"color":"#0000"},
{"offset":0.03,"color":"#000"},{"offset":0.0328,"color":"#000"},{"offset":0.0328,"color":"#0000"},{"offset":0.04,"color":"#0000"},
{"offset":0.04,"color":"#000"},{"offset":0.0428,"color":"#000"},{"offset":0.0428,"color":"#0000"},{"offset":0.05,"color":"#0000"},
{"offset":0.05,"color":"#000"},{"offset":0.0528,"color":"#000"},{"offset":0.0528,"color":"#0000"},{"offset":0.06,"color":"#0000"},
{"offset":0.06,"color":"#000"},{"offset":0.0628,"color":"#000"},{"offset":0.0628,"color":"#0000"},{"offset":0.07,"color":"#0000"},
{"offset":0.07,"color":"#000"},{"offset":0.0728,"color":"#000"},{"offset":0.0728,"color":"#0000"},{"offset":0.08,"color":"#0000"},
{"offset":0.08,"color":"#000"},{"offset":0.0828,"color":"#000"},{"offset":0.0828,"color":"#0000"},{"offset":0.09,"color":"#0000"},
{"offset":0.09,"color":"#000"},{"offset":0.0928,"color":"#000"},{"offset":0.0928,"color":"#0000"},{"offset":0.1,"color":"#0000"},
{"offset":0.1,"color":"#000"},{"offset":0.1028,"color":"#000"},{"offset":0.1028,"color":"#0000"},{"offset":0.11,"color":"#0000"},
{"offset":0.11,"color":"#000"},{"offset":0.1128,"color":"#000"},{"offset":0.1128,"color":"#0000"},{"offset":0.12,"color":"#0000"},
{"offset":0.12,"color":"#000"},{"offset":0.1228,"color":"#000"},{"offset":0.1228,"color":"#0000"},{"offset":0.13,"color":"#0000"},
{"offset":0.13,"color":"#000"},{"offset":0.1328,"color":"#000"},{"offset":0.1328,"color":"#0000"},{"offset":0.14,"color":"#0000"},
{"offset":0.14,"color":"#000"},{"offset":0.1428,"color":"#000"},{"offset":0.1428,"color":"#0000"},{"offset":0.15,"color":"#0000"},
{"offset":0.15,"color":"#000"},{"offset":0.1528,"color":"#000"},{"offset":0.1528,"color":"#0000"},{"offset":0.16,"color":"#0000"},
{"offset":0.16,"color":"#000"},{"offset":0.1628,"color":"#000"},{"offset":0.1628,"color":"#0000"},{"offset":0.17,"color":"#0000"},
{"offset":0.17,"color":"#000"},{"offset":0.1728,"color":"#000"},{"offset":0.1728,"color":"#0000"},{"offset":0.18,"color":"#0000"},
{"offset":0.18,"color":"#000"},{"offset":0.1828,"color":"#000"},{"offset":0.1828,"color":"#0000"},{"offset":0.19,"color":"#0000"},
{"offset":0.19,"color":"#000"},{"offset":0.1928,"color":"#000"},{"offset":0.1928,"color":"#0000"},{"offset":0.2,"color":"#0000"},
{"offset":0.2,"color":"#000"},{"offset":0.2028,"color":"#000"},{"offset":0.2028,"color":"#0000"},{"offset":0.21,"color":"#0000"},
{"offset":0.21,"color":"#000"},{"offset":0.2128,"color":"#000"},{"offset":0.2128,"color":"#0000"},{"offset":0.22,"color":"#0000"},
{"offset":0.22,"color":"#000"},{"offset":0.2228,"color":"#000"},{"offset":0.2228,"color":"#0000"},{"offset":0.23,"color":"#0000"},
{"offset":0.23,"color":"#000"},{"offset":0.2328,"color":"#000"},{"offset":0.2328,"color":"#0000"},{"offset":0.24,"color":"#0000"},
{"offset":0.24,"color":"#000"},{"offset":0.2428,"color":"#000"},{"offset":0.2428,"color":"#0000"},{"offset":0.25,"color":"#0000"},
{"offset":0.25,"color":"#000"},{"offset":0.2528,"color":"#000"},{"offset":0.2528,"color":"#0000"},{"offset":0.26,"color":"#0000"},
{"offset":0.26,"color":"#000"},{"offset":0.2628,"color":"#000"},{"offset":0.2628,"color":"#0000"},{"offset":0.27,"color":"#0000"},
{"offset":0.27,"color":"#000"},{"offset":0.2728,"color":"#000"},{"offset":0.2728,"color":"#0000"},{"offset":0.28,"color":"#0000"},
{"offset":0.28,"color":"#000"},{"offset":0.2828,"color":"#000"},{"offset":0.2828,"color":"#0000"},{"offset":0.29,"color":"#0000"},
{"offset":0.29,"color":"#000"},{"offset":0.2928,"color":"#000"},{"offset":0.2928,"color":"#0000"},{"offset":0.3,"color":"#0000"},
{"offset":0.3,"color":"#000"},{"offset":0.3028,"color":"#000"},{"offset":0.3028,"color":"#0000"},{"offset":0.31,"color":"#0000"},
{"offset":0.31,"color":"#000"},{"offset":0.3128,"color":"#000"},{"offset":0.3128,"color":"#0000"},{"offset":0.32,"color":"#0000"},
{"offset":0.32,"color":"#000"},{"offset":0.3228,"color":"#000"},{"offset":0.3228,"color":"#0000"},{"offset":0.33,"color":"#0000"},
{"offset":0.33,"color":"#000"},{"offset":0.3328,"color":"#000"},{"offset":0.3328,"color":"#0000"},{"offset":0.34,"color":"#0000"},
{"offset":0.34,"color":"#000"},{"offset":0.3428,"color":"#000"},{"offset":0.3428,"color":"#0000"},{"offset":0.35,"color":"#0000"},
{"offset":0.35,"color":"#000"},{"offset":0.3528,"color":"#000"},{"offset":0.3528,"color":"#0000"},{"offset":0.36,"color":"#0000"},
{"offset":0.36,"color":"#000"},{"offset":0.3628,"color":"#000"},{"offset":0.3628,"color":"#0000"},{"offset":0.37,"color":"#0000"},
{"offset":0.37,"color":"#000"},{"offset":0.3728,"color":"#000"},{"offset":0.3728,"color":"#0000"},{"offset":0.38,"color":"#0000"},
{"offset":0.38,"color":"#000"},{"offset":0.3828,"color":"#000"},{"offset":0.3828,"color":"#0000"},{"offset":0.39,"color":"#0000"},
{"offset":0.39,"color":"#000"},{"offset":0.3928,"color":"#000"},{"offset":0.3928,"color":"#0000"},{"offset":0.4,"color":"#0000"},
{"offset":0.4,"color":"#000"},{"offset":0.4028,"color":"#000"},{"offset":0.4028,"color":"#0000"},{"offset":0.41,"color":"#0000"},
{"offset":0.41,"color":"#000"},{"offset":0.4128,"color":"#000"},{"offset":0.4128,"color":"#0000"},{"offset":0.42,"color":"#0000"},
{"offset":0.42,"color":"#000"},{"offset":0.4228,"color":"#000"},{"offset":0.4228,"color":"#0000"},{"offset":0.43,"color":"#0000"},
{"offset":0.43,"color":"#000"},{"offset":0.4328,"color":"#000"},{"offset":0.4328,"color":"#0000"},{"offset":0.44,"color":"#0000"},
{"offset":0.44,"color":"#000"},{"offset":0.4428,"color":"#000"},{"offset":0.4428,"color":"#0000"},{"offset":0.45,"color":"#0000"},
{"offset":0.45,"color":"#000"},{"offset":0.4528,"color":"#000"},{"offset":0.4528,"color":"#0000"},{"offset":0.46,"color":"#0000"},
{"offset":0.46,"color":"#000"},{"offset":0.4628,"color":"#000"},{"offset":0.4628,"color":"#0000"},{"offset":0.47,"color":"#0000"},
{"offset":0.47,"color":"#000"},{"offset":0.4728,"color":"#000"},{"offset":0.4728,"color":"#0000"},{"offset":0.48,"color":"#0000"},
{"offset":0.48,"color":"#000"},{"offset":0.4828,"color":"#000"},{"offset":0.4828,"color":"#0000"},{"offset":0.49,"color":"#0000"},
{"offset":0.49,"color":"#000"},{"offset":0.4928,"color":"#000"},{"offset":0.4928,"color":"#0000"},{"offset":0.5,"color":"#0000"},
{"offset":0.5,"color":"#000"},{"offset":0.5028,"color":"#000"},{"offset":0.5028,"color":"#0000"},{"offset":0.51,"color":"#0000"},
{"offset":0.51,"color":"#000"},{"offset":0.5128,"color":"#000"},{"offset":0.5128,"color":"#0000"},{"offset":0.52,"color":"#0000"},
{"offset":0.52,"color":"#000"},{"offset":0.5228,"color":"#000"},{"offset":0.5228,"color":"#0000"},{"offset":0.53,"color":"#0000"},
{"offset":0.53,"color":"#000"},{"offset":0.5328,"color":"#000"},{"offset":0.5328,"color":"#0000"},{"offset":0.54,"color":"#0000"},
{"offset":0.54,"color":"#000"},{"offset":0.5428,"color":"#000"},{"offset":0.5428,"color":"#0000"},{"offset":0.55,"color":"#0000"},
{"offset":0.55,"color":"#000"},{"offset":0.5528,"color":"#000"},{"offset":0.5528,"color":"#0000"},{"offset":0.56,"color":"#0000"},
{"offset":0.56,"color":"#000"},{"offset":0.5628,"color":"#000"},{"offset":0.5628,"color":"#0000"},{"offset":0.57,"color":"#0000"},
{"offset":0.57,"color":"#000"},{"offset":0.5728,"color":"#000"},{"offset":0.5728,"color":"#0000"},{"offset":0.58,"color":"#0000"},
{"offset":0.58,"color":"#000"},{"offset":0.5828,"color":"#000"},{"offset":0.5828,"color":"#0000"},{"offset":0.59,"color":"#0000"},
{"offset":0.59,"color":"#000"},{"offset":0.5928,"color":"#000"},{"offset":0.5928,"color":"#0000"},{"offset":0.6,"color":"#0000"},
{"offset":0.6,"color":"#000"},{"offset":0.6028,"color":"#000"},{"offset":0.6028,"color":"#0000"},{"offset":0.61,"color":"#0000"},
{"offset":0.61,"color":"#000"},{"offset":0.6128,"color":"#000"},{"offset":0.6128,"color":"#0000"},{"offset":0.62,"color":"#0000"},
{"offset":0.62,"color":"#000"},{"offset":0.6228,"color":"#000"},{"offset":0.6228,"color":"#0000"},{"offset":0.63,"color":"#0000"},
{"offset":0.63,"color":"#000"},{"offset":0.6328,"color":"#000"},{"offset":0.6328,"color":"#0000"},{"offset":0.64,"color":"#0000"},
{"offset":0.64,"color":"#000"},{"offset":0.6428,"color":"#000"},{"offset":0.6428,"color":"#0000"},{"offset":0.65,"color":"#0000"},
{"offset":0.65,"color":"#000"},{"offset":0.6528,"color":"#000"},{"offset":0.6528,"color":"#0000"},{"offset":0.66,"color":"#0000"},
{"offset":0.66,"color":"#000"},{"offset":0.6628,"color":"#000"},{"offset":0.6628,"color":"#0000"},{"offset":0.67,"color":"#0000"},
{"offset":0.67,"color":"#000"},{"offset":0.6728,"color":"#000"},{"offset":0.6728,"color":"#0000"},{"offset":0.68,"color":"#0000"},
{"offset":0.68,"color":"#000"},{"offset":0.6828,"color":"#000"},{"offset":0.6828,"color":"#0000"},{"offset":0.69,"color":"#0000"},
{"offset":0.69,"color":"#000"},{"offset":0.6928,"color":"#000"},{"offset":0.6928,"color":"#0000"},{"offset":0.7,"color":"#0000"},
{"offset":0.7,"color":"#000"},{"offset":0.7028,"color":"#000"},{"offset":0.7028,"color":"#0000"},{"offset":0.71,"color":"#0000"},
{"offset":0.71,"color":"#000"},{"offset":0.7128,"color":"#000"},{"offset":0.7128,"color":"#0000"},{"offset":0.72,"color":"#0000"},
{"offset":0.72,"color":"#000"},{"offset":0.7228,"color":"#000"},{"offset":0.7228,"color":"#0000"},{"offset":0.73,"color":"#0000"},
{"offset":0.73,"color":"#000"},{"offset":0.7328,"color":"#000"},{"offset":0.7328,"color":"#0000"},{"offset":0.74,"color":"#0000"},
{"offset":0.74,"color":"#000"},{"offset":0.7428,"color":"#000"},{"offset":0.7428,"color":"#0000"},{"offset":0.75,"color":"#0000"},
{"offset":0.75,"color":"#000"},{"offset":0.7528,"color":"#000"},{"offset":0.7528,"color":"#0000"},{"offset":0.76,"color":"#0000"},
{"offset":0.76,"color":"#000"},{"offset":0.7628,"color":"#000"},{"offset":0.7628,"color":"#0000"},{"offset":0.77,"color":"#0000"},
{"offset":0.77,"color":"#000"},{"offset":0.7728,"color":"#000"},{"offset":0.7728,"color":"#0000"},{"offset":0.78,"color":"#0000"},
{"offset":0.78,"color":"#000"},{"offset":0.7828,"color":"#000"},{"offset":0.7828,"color":"#0000"},{"offset":0.79,"color":"#0000"},
{"offset":0.79,"color":"#000"},{"offset":0.7928,"color":"#000"},{"offset":0.7928,"color":"#0000"},{"offset":0.8,"color":"#0000"},
{"offset":0.8,"color":"#000"},{"offset":0.8028,"color":"#000"},{"offset":0.8028,"color":"#0000"},{"offset":0.81,"color":"#0000"},
{"offset":0.81,"color":"#000"},{"offset":0.8128,"color":"#000"},{"offset":0.8128,"color":"#0000"},{"offset":0.82,"color":"#0000"},
{"offset":0.82,"color":"#000"},{"offset":0.8228,"color":"#000"},{"offset":0.8228,"color":"#0000"},{"offset":0.83,"color":"#0000"},
{"offset":0.83,"color":"#000"},{"offset":0.8328,"color":"#000"},{"offset":0.8328,"color":"#0000"},{"offset":0.84,"color":"#0000"},
{"offset":0.84,"color":"#000"},{"offset":0.8428,"color":"#000"},{"offset":0.8428,"color":"#0000"},{"offset":0.85,"color":"#0000"},
{"offset":0.85,"color":"#000"},{"offset":0.8528,"color":"#000"},{"offset":0.8528,"color":"#0000"},{"offset":0.86,"color":"#0000"},
{"offset":0.86,"color":"#000"},{"offset":0.8628,"color":"#000"},{"offset":0.8628,"color":"#0000"},{"offset":0.87,"color":"#0000"},
{"offset":0.87,"color":"#000"},{"offset":0.8728,"color":"#000"},{"offset":0.8728,"color":"#0000"},{"offset":0.88,"color":"#0000"},
{"offset":0.88,"color":"#000"},{"offset":0.8828,"color":"#000"},{"offset":0.8828,"color":"#0000"},{"offset":0.89,"color":"#0000"},
{"offset":0.89,"color":"#000"},{"offset":0.8928,"color":"#000"},{"offset":0.8928,"color":"#0000"},{"offset":0.9,"color":"#0000"},
{"offset":0.9,"color":"#000"},{"offset":0.9028,"color":"#000"},{"offset":0.9028,"color":"#0000"},{"offset":0.91,"color":"#0000"},
{"offset":0.91,"color":"#000"},{"offset":0.9128,"color":"#000"},{"offset":0.9128,"color":"#0000"},{"offset":0.92,"color":"#0000"},
{"offset":0.92,"color":"#000"},{"offset":0.9228,"color":"#000"},{"offset":0.9228,"color":"#0000"},{"offset":0.93,"color":"#0000"},
{"offset":0.93,"color":"#000"},{"offset":0.9328,"color":"#000"},{"offset":0.9328,"color":"#0000"},{"offset":0.94,"color":"#0000"},
{"offset":0.94,"color":"#000"},{"offset":0.9428,"color":"#000"},{"offset":0.9428,"color":"#0000"},{"offset":0.95,"color":"#0000"},
{"offset":0.95,"color":"#000"},{"offset":0.9528,"color":"#000"},{"offset":0.9528,"color":"#0000"},{"offset":0.96,"color":"#0000"},
{"offset":0.96,"color":"#000"},{"offset":0.9628,"color":"#000"},{"offset":0.9628,"color":"#0000"},{"offset":0.97,"color":"#0000"},
{"offset":0.97,"color":"#000"},{"offset":0.9728,"color":"#000"},{"offset":0.9728,"color":"#0000"},{"offset":0.98,"color":"#0000"},
{"offset":0.98,"color":"#000"},{"offset":0.9828,"color":"#000"},{"offset":0.9828,"color":"#0000"},{"offset":0.99,"color":"#0000"},
{"offset":0.99,"color":"#000"},{"offset":0.9928,"color":"#000"},{"offset":0.9928,"color":"#0000"},{"offset":1,"color":"#0000"}
]}},
 "encoding": {
  "x": {"field": "edges", "type": "quantitative", "scale": {"domain": [50, 185], "nice": false, "zero": false}, "axis": {"orient":"bottom","values":[60,80,100,120,140,160,180],"format":"d","ticks":false,"domain":false,"grid":false,"labelFontSize":17,"labelPadding":22,"labelBaseline":"middle","labelColor":"black","labelFlush":false,"title":"[GeV]","titleFontSize":16,"titleFontWeight":"normal","titleColor":"black","titleX":363.5,"titleY":42,"titleAlign":"left","titleBaseline":"alphabetic","zindex":2}},
  "y": {"field": "rbhi", "type": "quantitative", "scale": {"domain": [0.43, 1.62], "nice": false, "zero": false}, "axis": {"orient":"left","values":[0.5,1,1.5],"format":"~g","ticks":false,"domain":false,"grid":false,"labelFontSize":16,"labelPadding":9,"labelColor":"black","title":"Data/Pred.","titleFontSize":16.5,"titleFontWeight":"normal","titleColor":"black","titleAnchor":"end","titlePadding":15,"zindex":2}},
  "y2": {"field": "rblo"}
 }
},
{"mark": {"type": "rule", "color": "black", "strokeWidth": 1.5, "clip": true},
 "encoding": {
  "x": {"field": "c", "type": "quantitative", "scale": {"domain": [50, 185], "nice": false, "zero": false}, "axis": {"orient":"bottom","values":[60,80,100,120,140,160,180],"labels":false,"tickSize":-7,"tickWidth":1,"tickColor":"black","domain":true,"domainColor":"black","domainWidth":1.5,"grid":false,"title":"m","titleFontSize":16,"titleFontWeight":"normal","titleColor":"black","titleX":335,"titleY":42,"titleAlign":"left","titleBaseline":"alphabetic","zindex":2}},
  "y": {"field": "rlo", "type": "quantitative", "scale": {"domain": [0.43, 1.62], "nice": false, "zero": false}, "axis": {"orient":"left","values":[0.5,1,1.5],"labels":false,"tickSize":-9,"tickWidth":1,"tickColor":"black","domain":true,"domainColor":"black","domainWidth":1.5,"grid":false,"title":null,"zindex":2}},
  "y2": {"field": "rhi"}
 }
},
{"mark": {"type": "rule", "color": "black", "strokeWidth": 1.5, "clip": true},
 "encoding": {
  "x": {"field": "lo", "type": "quantitative", "scale": {"domain": [50, 185], "nice": false, "zero": false}, "axis": {"orient":"bottom","values":[55,65,70,75,85,90,95,105,110,115,125,130,135,145,150,155,165,170,175],"labels":false,"tickSize":-3.5,"tickWidth":1,"tickColor":"black","domain":false,"grid":false,"title":"cc","titleFontSize":11,"titleFontWeight":"normal","titleColor":"black","titleX":348.5,"titleY":45.5,"titleAlign":"left","titleBaseline":"alphabetic","zindex":2}},
  "x2": {"field": "hi"},
  "y": {"field": "r", "type": "quantitative", "scale": {"domain": [0.43, 1.62], "nice": false, "zero": false}, "axis": {"orient":"left","values":[0.6,0.7,0.8,0.9,1.1,1.2,1.3,1.4,1.6],"labels":false,"tickSize":-4.5,"tickWidth":1,"tickColor":"black","domain":false,"grid":false,"title":null,"zindex":2}}
 }
},
{"mark": {"type": "point", "shape": "circle", "filled": true, "color": "black", "size": 45, "opacity": 1, "clip": true},
 "encoding": {
  "x": {"field": "c", "type": "quantitative", "scale": {"domain": [50, 185], "nice": false, "zero": false}, "axis": {"orient":"top","values":[60,80,100,120,140,160,180],"labels":false,"tickSize":-7,"tickWidth":1,"tickColor":"black","domain":true,"domainColor":"black","domainWidth":1.5,"grid":false,"title":null,"zindex":2}},
  "y": {"field": "r", "type": "quantitative", "scale": {"domain": [0.43, 1.62], "nice": false, "zero": false}, "axis": {"orient":"right","values":[0.5,1,1.5],"labels":false,"tickSize":-9,"tickWidth":1,"tickColor":"black","domain":true,"domainColor":"black","domainWidth":1.5,"grid":false,"title":null,"zindex":2}}
 }
},
{"mark": {"type": "point", "shape": "circle", "filled": true, "color": "black", "size": 45, "opacity": 1, "clip": true},
 "encoding": {
  "x": {"field": "c", "type": "quantitative", "scale": {"domain": [50, 185], "nice": false, "zero": false}, "axis": {"orient":"top","values":[55,65,70,75,85,90,95,105,110,115,125,130,135,145,150,155,165,170,175],"labels":false,"tickSize":-3.5,"tickWidth":1,"tickColor":"black","domain":false,"grid":false,"title":null,"zindex":2}},
  "y": {"field": "r", "type": "quantitative", "scale": {"domain": [0.43, 1.62], "nice": false, "zero": false}, "axis": {"orient":"right","values":[0.6,0.7,0.8,0.9,1.1,1.2,1.3,1.4,1.6],"labels":false,"tickSize":-4.5,"tickWidth":1,"tickColor":"black","domain":false,"grid":false,"title":null,"zindex":2}}
 }
}
],
"resolve": {"axis": {"x": "independent", "y": "independent"}}
}
]
}
